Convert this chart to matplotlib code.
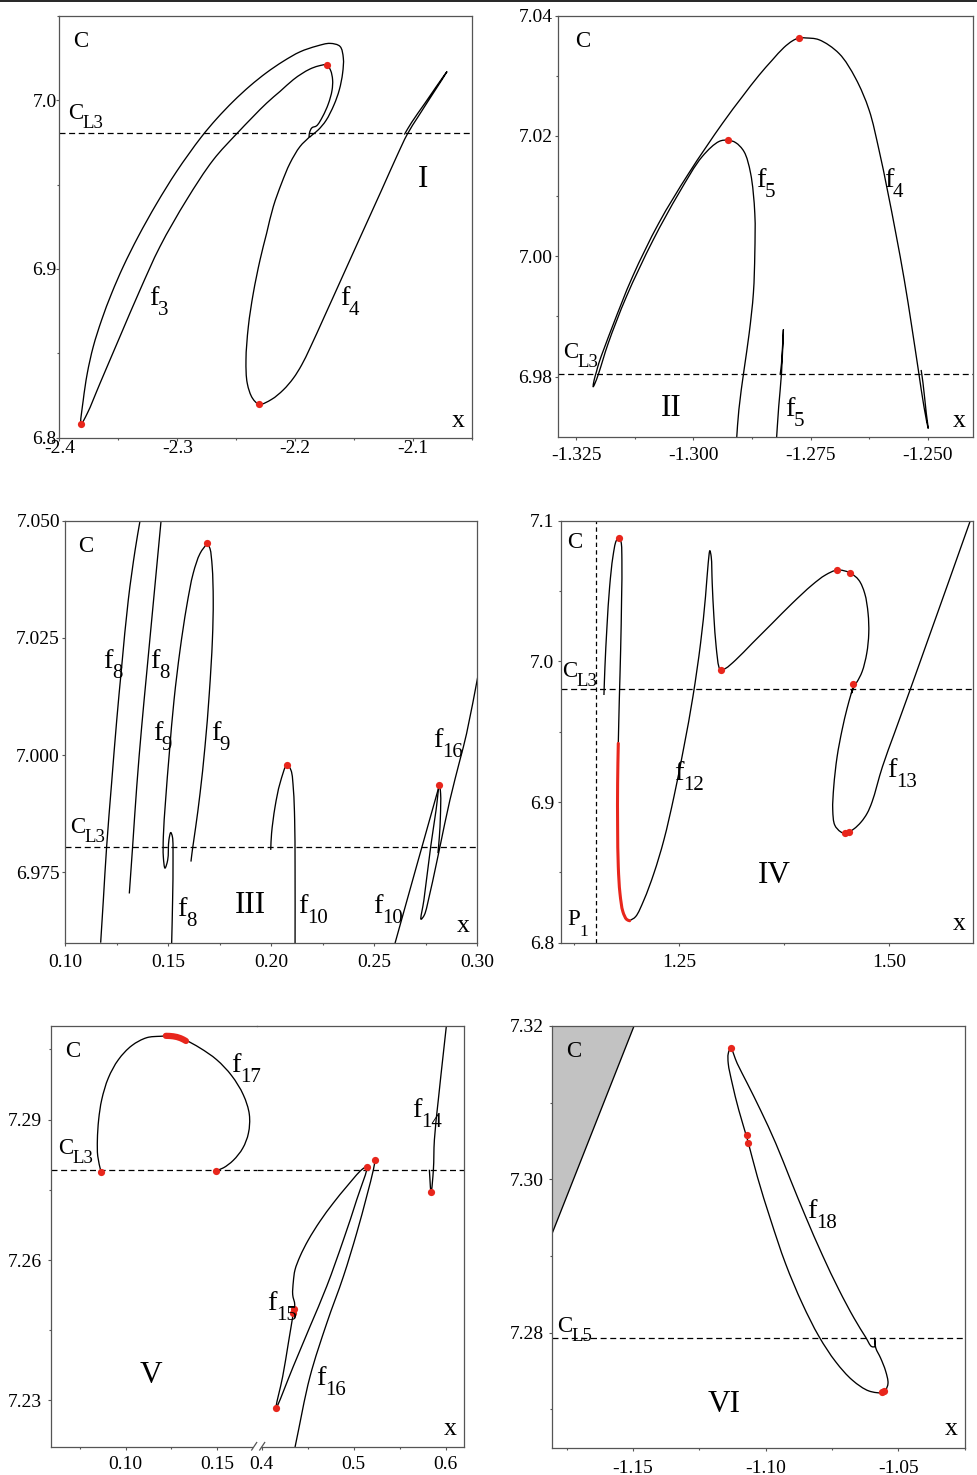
import numpy as np
import matplotlib
matplotlib.use('Agg')
import matplotlib.pyplot as plt
from matplotlib.lines import Line2D
from matplotlib.path import Path
from matplotlib.patches import PathPatch
from matplotlib.ticker import FixedLocator, FixedFormatter, NullLocator

plt.rcParams['font.family'] = ['Liberation Serif', 'DejaVu Serif']
plt.rcParams['axes.unicode_minus'] = False

W, H = 978, 1475
RED = '#e8261c'
SPINE = '#555555'

# ---------------- data ----------------
CL3 = 6.9805
CL3_V = 7.2792
CL5_VI = 7.2793
P1 = 1.151

# Panel I
f3_x = [-2.3816, -2.3797, -2.3763, -2.3712, -2.3641, -2.3556, -2.3458, -2.3331, -2.3175, -2.3006,
        -2.2799, -2.2667, -2.2525, -2.2384, -2.2243, -2.2102, -2.1960, -2.1819, -2.1706,
        -2.1621, -2.1593, -2.1599, -2.1627, -2.1672, -2.1740,
        -2.1805, -2.1853, -2.1881, -2.1879, -2.1859, -2.1819, -2.1768, -2.1720, -2.1689, -2.1684,
        -2.1701, -2.1734, -2.1805, -2.1876, -2.1946, -2.2017, -2.2130, -2.2243, -2.2492, -2.2695,
        -2.2921, -2.3147, -2.3316, -2.3486, -2.3655, -2.3763, -2.3816]
f3_y = [6.8081, 6.8223, 6.8381, 6.8540, 6.8698, 6.8856, 6.9014, 6.9192, 6.9387, 6.9577,
        6.9779, 6.9889, 6.9993, 7.0084, 7.0163, 7.0230, 7.0286, 7.0320, 7.0336,
        7.0318, 7.0249, 7.0160, 7.0061, 6.9972, 6.9879,
        6.9824, 6.9796, 6.9781, 6.9808, 6.9836, 6.9848, 6.9903, 6.9978, 7.0057, 7.0121,
        7.0176, 7.0208, 7.0202, 7.0184, 7.0156, 7.0121, 7.0051, 6.9982, 6.9804, 6.9646,
        6.9409, 6.9132, 6.8875, 6.8599, 6.8322, 6.8144, 6.8081]
f4a_x = [-2.1881, -2.1960, -2.2045, -2.2116, -2.2186, -2.2243, -2.2299, -2.2356, -2.2398, -2.2418,
         -2.2407, -2.2362, -2.2305, -2.2201, -2.2102, -2.2017, -2.1946, -2.1876, -2.1754, -2.1613,
         -2.1460, -2.1268, -2.1141, -2.1051, -2.0958, -2.0845, -2.0715, -2.0737, -2.0901, -2.1014,
         -2.1076]
f4a_y = [6.9781, 6.9725, 6.9626, 6.9508, 6.9370, 6.9211, 6.9053, 6.8856, 6.8658, 6.8460,
         6.8322, 6.8233, 6.8198, 6.8227, 6.8283, 6.8352, 6.8431, 6.8530, 6.8717, 6.8935,
         6.9172, 6.9468, 6.9666, 6.9798, 6.9903, 7.0026, 7.0168, 7.0148, 6.9982, 6.9868,
         6.9796]
dots1_x = [-2.3816, -2.2305, -2.1734]
dots1_y = [6.8081, 6.8198, 7.0208]

# Panel II
f45_x = [-1.2908, -1.2903, -1.2892, -1.2881, -1.2872, -1.2869, -1.2869, -1.2878, -1.2892, -1.2910,
         -1.2926, -1.2945, -1.2981, -1.3031, -1.3086, -1.3143, -1.3182, -1.3202, -1.3210, -1.3214,
         -1.3212, -1.3207, -1.3202, -1.3173, -1.3130, -1.3074, -1.3010, -1.2938, -1.2896, -1.2860,
         -1.2832, -1.2807, -1.2789, -1.2775, -1.2760, -1.2732, -1.2689, -1.2654, -1.2625, -1.2604,
         -1.2586, -1.2568, -1.2550, -1.2534, -1.2520, -1.2508, -1.2499, -1.2503, -1.2510, -1.2514]
f45_y = [6.9694, 6.9745, 6.9811, 6.9872, 6.9939, 7.0005, 7.0071, 7.0138, 7.0174, 7.0189,
         7.0193, 7.0191, 7.0166, 7.0105, 7.0027, 6.9933, 6.9855, 6.9806, 6.9789, 6.9783,
         6.9794, 6.9808, 6.9822, 6.9883, 6.9966, 7.0055, 7.0138, 7.0221, 7.0265, 7.0301,
         7.0326, 7.0347, 7.0358, 7.0363, 7.0363, 7.0360, 7.0337, 7.0296, 7.0243, 7.0177,
         7.0110, 7.0038, 6.9961, 6.9883, 6.9811, 6.9750, 6.9714, 6.9739, 6.9789, 6.9811]
f5s_x = [-1.2824, -1.2818, -1.2812, -1.2808, -1.2812, -1.2815]
f5s_y = [6.9680, 6.9750, 6.9806, 6.9878, 6.9822, 6.9803]
dots2_x = [-1.2926, -1.2775]
dots2_y = [7.0193, 7.0363]

# Panel III
f8a_x = [0.1173, 0.1186, 0.1202, 0.1226, 0.1251, 0.1275, 0.1307, 0.1340, 0.1364]
f8a_y = [6.9600, 6.9691, 6.9805, 6.9940, 7.0075, 7.0189, 7.0331, 7.0437, 7.0500]
f8b_x = [0.1312, 0.1328, 0.1348, 0.1372, 0.1396, 0.1425, 0.1466]
f8b_y = [6.9705, 6.9805, 6.9933, 7.0061, 7.0174, 7.0309, 7.0500]
f9a_x = [0.1690, 0.1655, 0.1622, 0.1590, 0.1558, 0.1529, 0.1506, 0.1488, 0.1477, 0.1477,
         0.1485, 0.1498, 0.1504, 0.1513, 0.1521, 0.1524, 0.1522, 0.1517]
f9a_y = [7.0452, 7.0430, 7.0388, 7.0317, 7.0224, 7.0118, 7.0004, 6.9904, 6.9826, 6.9783,
         6.9759, 6.9776, 6.9819, 6.9835, 6.9826, 6.9776, 6.9691, 6.9592]
f9b_x = [0.1690, 0.1703, 0.1714, 0.1719, 0.1715, 0.1700, 0.1679, 0.1655, 0.1634, 0.1618, 0.1611]
f9b_y = [7.0452, 7.0441, 7.0402, 7.0331, 7.0246, 7.0132, 7.0018, 6.9918, 6.9847, 6.9798, 6.9773]
f10a_x = [0.1998, 0.2002, 0.2019, 0.2043, 0.2077, 0.2096, 0.2108, 0.2114, 0.2116, 0.2116]
f10a_y = [6.9798, 6.9833, 6.9890, 6.9940, 6.9979, 6.9968, 6.9926, 6.9862, 6.9762, 6.9592]
f16a_x = [0.3010, 0.2948, 0.2916, 0.2867, 0.2819, 0.2795, 0.2770, 0.2743, 0.2727, 0.2741,
          0.2774, 0.2800, 0.2816, 0.2822, 0.2821, 0.2816, 0.2809]
f16a_y = [7.0185, 7.0046, 6.9990, 6.9904, 6.9805, 6.9755, 6.9705, 6.9659, 6.9650, 6.9691,
          6.9805, 6.9883, 6.9936, 6.9918, 6.9869, 6.9826, 6.9791]
f10b_x = [0.2601, 0.2709, 0.2816]
f10b_y = [6.9599, 6.9769, 6.9936]
dots3_x = [0.1690, 0.2077, 0.2816]
dots3_y = [7.0452, 6.9979, 6.9936]

# Panel IV
f12a_x = [1.1603, 1.1615, 1.1639, 1.1671, 1.1710, 1.1750, 1.1782, 1.1806, 1.1817, 1.1813,
          1.1802, 1.1786, 1.1774]
f12a_y = [6.9761, 6.9962, 7.0246, 7.0531, 7.0744, 7.0858, 7.0879, 7.0851, 7.0720, 7.0436,
          7.0081, 6.9725, 6.9417]
f12r_x = [1.1774, 1.1766, 1.1766, 1.1774, 1.1794, 1.1829, 1.1873, 1.1909]
f12r_y = [6.9417, 6.9133, 6.8825, 6.8540, 6.8351, 6.8220, 6.8166, 6.8156]
f12b_x = [1.1909, 1.1980, 1.2079, 1.2198, 1.2317, 1.2437, 1.2556, 1.2663, 1.2754, 1.2813,
          1.2845, 1.2865, 1.2881, 1.2893, 1.2913, 1.2940, 1.2972, 1.2992, 1.3052, 1.3171,
          1.3369, 1.3607, 1.3845, 1.4083, 1.4242, 1.4385, 1.4532, 1.4639, 1.4710, 1.4750,
          1.4758, 1.4734, 1.4679, 1.4619, 1.4599, 1.4567, 1.4552, 1.4567, 1.4544, 1.4500,
          1.4440, 1.4381, 1.4341, 1.4329, 1.4353, 1.4421, 1.4480, 1.4579, 1.4667, 1.4738,
          1.4798, 1.4921, 1.5063, 1.5254, 1.5472, 1.5710, 1.5968, 1.6008]
f12b_y = [6.8156, 6.8185, 6.8303, 6.8493, 6.8730, 6.9038, 6.9393, 6.9749, 7.0128, 7.0460,
          7.0697, 7.0787, 7.0744, 7.0555, 7.0318, 7.0104, 6.9962, 6.9938, 6.9950, 7.0009,
          7.0128, 7.0270, 7.0412, 7.0543, 7.0614, 7.0649, 7.0630, 7.0578, 7.0483, 7.0341,
          7.0199, 7.0057, 6.9927, 6.9855, 6.9839, 6.9796, 6.9773, 6.9808, 6.9761, 6.9666,
          6.9512, 6.9322, 6.9109, 6.8943, 6.8836, 6.8789, 6.8777, 6.8808, 6.8858, 6.8919,
          6.9002, 6.9251, 6.9488, 6.9803, 7.0168, 7.0566, 7.1000, 7.1066]
dots4_x = [1.1782, 1.2992, 1.4385, 1.4532, 1.4567, 1.4480, 1.4520]
dots4_y = [7.0879, 6.9938, 7.0649, 7.0630, 6.9839, 6.8777, 6.8789]

# Panel V (left part)
f17_x = [0.0865, 0.0847, 0.0845, 0.0852, 0.0869, 0.0905, 0.0960, 0.1033, 0.1115, 0.1188,
         0.1243, 0.1325, 0.1407, 0.1498, 0.1580, 0.1644, 0.1677, 0.1672, 0.1641, 0.1589,
         0.1535, 0.1495]
f17_y = [7.2788, 7.2822, 7.2857, 7.2900, 7.2943, 7.2989, 7.3028, 7.3058, 7.3075, 7.3078,
         7.3078, 7.3070, 7.3053, 7.3028, 7.2994, 7.2953, 7.2911, 7.2871, 7.2839, 7.2813,
         7.2797, 7.2791]
f17r_x = [0.1220, 0.1260, 0.1300, 0.1330]
f17r_y = [7.3079, 7.3078, 7.3074, 7.3068]
dots5a_x = [0.0865, 0.1495]
dots5a_y = [7.2788, 7.2791]
# Panel V (right part)
f15_x = [0.5087, 0.4924, 0.4779, 0.4634, 0.4507, 0.4417, 0.4362, 0.4344, 0.4337, 0.4359,
         0.4344, 0.4290, 0.4228, 0.4156, 0.4344, 0.4525, 0.4707, 0.4888, 0.5033, 0.5141, 0.5087]
f15_y = [7.2793, 7.2757, 7.2722, 7.2683, 7.2643, 7.2608, 7.2579, 7.2554, 7.2526, 7.2505,
         7.2487, 7.2423, 7.2351, 7.2284, 7.2373, 7.2458, 7.2544, 7.2643, 7.2729, 7.2799, 7.2793]
f16v_x = [0.4362, 0.4525, 0.4707, 0.4888, 0.5033, 0.5141, 0.5214, 0.5232]
f16v_y = [7.2200, 7.2351, 7.2465, 7.2565, 7.2658, 7.2736, 7.2793, 7.2813]
f14_x = [0.6011, 0.5975, 0.5920, 0.5877, 0.5866, 0.5841, 0.5822]
f14_y = [7.3107, 7.3043, 7.2943, 7.2857, 7.2793, 7.2745, 7.2793]
dots5b_x = [0.5141, 0.5232, 0.4344, 0.4346, 0.4156, 0.5841]
dots5b_y = [7.2799, 7.2813, 7.2487, 7.2495, 7.2284, 7.2745]

# Panel VI
f18_x = [-1.1132, -1.1107, -1.1069, -1.1019, -1.0962, -1.0906, -1.0849, -1.0786, -1.0724, -1.0667,
         -1.0623, -1.0601, -1.0588, -1.0590, -1.0585, -1.0567, -1.0548, -1.0539, -1.0548, -1.0558,
         -1.0611, -1.0673, -1.0736, -1.0799, -1.0862, -1.0925, -1.0981, -1.1031, -1.1068, -1.1101,
         -1.1126, -1.1141, -1.1141, -1.1132]
f18_y = [7.3171, 7.3151, 7.3125, 7.3090, 7.3047, 7.2999, 7.2951, 7.2901, 7.2856, 7.2819,
         7.2794, 7.2782, 7.2782, 7.2793, 7.2780, 7.2767, 7.2750, 7.2734, 7.2725, 7.2722,
         7.2724, 7.2738, 7.2762, 7.2795, 7.2838, 7.2890, 7.2947, 7.3003, 7.3051, 7.3090,
         7.3125, 7.3151, 7.3164, 7.3171]
dots6_x = [-1.1132, -1.1072, -1.1066, -1.0562, -1.0553]
dots6_y = [7.3171, 7.3058, 7.3047, 7.2722, 7.2724]
gray_x = [-1.1804, -1.1496, -1.1804]
gray_y = [7.3200, 7.3200, 7.2930]

# Ticks
t1_x, t1_xl, t1_xm = [-2.4, -2.3, -2.2, -2.1], ['-2.4', '-2.3', '-2.2', '-2.1'], [-2.35, -2.25, -2.15, -2.05]
t1_y, t1_yl, t1_ym = [6.8, 6.9, 7.0], ['6.8', '6.9', '7.0'], [6.85, 6.95, 7.05]
t2_x, t2_xl, t2_xm = [-1.325, -1.300, -1.275, -1.250], ['-1.325', '-1.300', '-1.275', '-1.250'], [-1.3125, -1.2875, -1.2625]
t2_y, t2_yl, t2_ym = [6.98, 7.00, 7.02, 7.04], ['6.98', '7.00', '7.02', '7.04'], [6.99, 7.01, 7.03]
t3_x, t3_xl, t3_xm = [0.10, 0.15, 0.20, 0.25, 0.30], ['0.10', '0.15', '0.20', '0.25', '0.30'], [0.125, 0.175, 0.225, 0.275]
t3_y, t3_yl, t3_ym = [6.975, 7.000, 7.025, 7.050], ['6.975', '7.000', '7.025', '7.050'], []
t4_x, t4_xl, t4_xm = [1.25, 1.50], ['1.25', '1.50'], [1.125, 1.375]
t4_y, t4_yl, t4_ym = [6.8, 6.9, 7.0, 7.1], ['6.8', '6.9', '7.0', '7.1'], [6.85, 6.95, 7.05]
t5a_x, t5a_xl, t5a_xm = [0.10, 0.15], ['0.10', '0.15'], [0.075, 0.125]
t5b_x, t5b_xl, t5b_xm = [0.4, 0.5, 0.6], ['0.4', '0.5', '0.6'], [0.45, 0.55]
t5_y, t5_yl, t5_ym = [7.23, 7.26, 7.29], ['7.23', '7.26', '7.29'], [7.245, 7.275, 7.305]
t6_x, t6_xl, t6_xm = [-1.15, -1.10, -1.05], ['-1.15', '-1.10', '-1.05'], [-1.175, -1.125, -1.075, -1.025]
t6_y, t6_yl, t6_ym = [7.28, 7.30, 7.32], ['7.28', '7.30', '7.32'], [7.27, 7.29, 7.31]

# ---------------- figure ----------------
fig = plt.figure(figsize=(W / 100, H / 100), dpi=100)
fig.patch.set_facecolor('white')


def make_ax(l, r, t, b):
    return fig.add_axes([l / W, 1 - b / H, (r - l) / W, (b - t) / H])


PX = 0.72  # points per pixel


def style(ax, xlim, ylim, xt, xl, xm, yt, yl, ym, xgap, ygap):
    ax.set_xlim(*xlim)
    ax.set_ylim(*ylim)
    ax.xaxis.set_major_locator(FixedLocator(xt))
    ax.xaxis.set_major_formatter(FixedFormatter(xl))
    ax.xaxis.set_minor_locator(FixedLocator(xm) if xm else NullLocator())
    ax.yaxis.set_major_locator(FixedLocator(yt))
    ax.yaxis.set_major_formatter(FixedFormatter(yl))
    ax.yaxis.set_minor_locator(FixedLocator(ym) if ym else NullLocator())
    ax.tick_params(which='major', length=3 * PX, width=0.8, color=SPINE, labelsize=14,
                   direction='out')
    ax.tick_params(which='minor', length=2.2 * PX, width=0.8, color=SPINE, direction='out')
    ax.tick_params(axis='x', which='major', pad=(xgap - 3.5) * PX)
    ax.tick_params(axis='y', which='major', pad=(ygap - 3) * PX)
    for s in ax.spines.values():
        s.set_color(SPINE)
        s.set_linewidth(0.9)


LW = 0.95
DASH = (0, (4.8, 2.9))


def curve(ax, xs, ys, color='k', lw=LW, capstyle='butt'):
    """Draw a smooth (centripetal Catmull-Rom) line through the read points."""
    pts = np.column_stack([xs, ys]).astype(float)
    x0, x1 = ax.get_xlim()
    y0, y1 = ax.get_ylim()
    pos = ax.get_position()
    sx = pos.width * W / (x1 - x0)
    sy = pos.height * H / (y1 - y0)
    closed = np.allclose(pts[0], pts[-1])
    n = len(pts)

    def dist(a, b):
        return max(np.hypot((a[0] - b[0]) * sx, (a[1] - b[1]) * sy), 1e-6) ** 0.5

    verts = [pts[0]]
    codes = [Path.MOVETO]
    for i in range(n - 1):
        p1, p2 = pts[i], pts[i + 1]
        if i > 0:
            p0 = pts[i - 1]
        elif closed:
            p0 = pts[-2]
        else:
            p0 = 2 * p1 - p2
        if i + 2 < n:
            p3 = pts[i + 2]
        elif closed:
            p3 = pts[1]
        else:
            p3 = 2 * p2 - p1
        d1, d2, d3 = dist(p0, p1), dist(p1, p2), dist(p2, p3)
        c1 = (d1 ** 2 * p2 - d2 ** 2 * p0 + (2 * d1 ** 2 + 3 * d1 * d2 + d2 ** 2) * p1) / (3 * d1 * (d1 + d2))
        c2 = (d3 ** 2 * p1 - d2 ** 2 * p3 + (2 * d3 ** 2 + 3 * d3 * d2 + d2 ** 2) * p2) / (3 * d3 * (d3 + d2))
        verts += [c1, c2, p2]
        codes += [Path.CURVE4] * 3
    ax.add_patch(PathPatch(Path(verts, codes), fill=False, edgecolor=color, lw=lw,
                           capstyle=capstyle, joinstyle='round'))


def dots(ax, xs, ys, ms=5.2):
    ax.plot(xs, ys, 'o', color=RED, ms=ms, mec='none', zorder=5)


# Panel I
ax1 = make_ax(59.3, 472.3, 15.7, 437.7)
style(ax1, (-2.4, -2.05), (6.8, 7.05), t1_x, t1_xl, t1_xm, t1_y, t1_yl, t1_ym, 3, 2.7)
curve(ax1, f3_x, f3_y)
curve(ax1, f4a_x, f4a_y)
ax1.axhline(CL3, color='k', lw=0.9, ls=DASH)
dots(ax1, dots1_x, dots1_y)

# Panel II
ax2 = make_ax(557.7, 973, 15.7, 436.7)
style(ax2, (-1.32897, -1.24033), (6.97, 7.04), t2_x, t2_xl, t2_xm, t2_y, t2_yl, t2_ym, 11, 5.3)
curve(ax2, f45_x, f45_y)
curve(ax2, f5s_x, f5s_y)
ax2.axhline(CL3, color='k', lw=0.9, ls=DASH)
dots(ax2, dots2_x, dots2_y)

# Panel III
ax3 = make_ax(65, 477.3, 520.7, 942.7)
style(ax3, (0.10, 0.30), (6.96, 7.05), t3_x, t3_xl, t3_xm, t3_y, t3_yl, t3_ym, 12, 5)
for xs, ys in [(f8a_x, f8a_y), (f8b_x, f8b_y), (f9a_x, f9a_y), (f9b_x, f9b_y),
               (f10a_x, f10a_y), (f16a_x, f16a_y), (f10b_x, f10b_y)]:
    curve(ax3, xs, ys)
ax3.axhline(CL3, color='k', lw=0.9, ls=DASH)
dots(ax3, dots3_x, dots3_y)

# Panel IV
ax4 = make_ax(561.3, 973, 520.7, 942.7)
style(ax4, (1.1095, 1.60), (6.8, 7.1), t4_x, t4_xl, t4_xm, t4_y, t4_yl, t4_ym, 12, 7.3)
curve(ax4, f12a_x, f12a_y)
curve(ax4, f12b_x, f12b_y)
curve(ax4, f12r_x, f12r_y, color=RED, lw=2.2, capstyle='round')
ax4.axhline(CL3, color='k', lw=0.9, ls=DASH)
ax4.axvline(P1, color='k', lw=0.9, ls=(0, (3.5, 2.6)))
dots(ax4, dots4_x, dots4_y)

# Panel V (broken axis)
ax5a = make_ax(51, 257, 1026, 1447.3)
ax5b = make_ax(257, 464.3, 1026, 1447.3)
style(ax5a, (0.0591, 0.1719), (7.22, 7.31), t5a_x, t5a_xl, t5a_xm, t5_y, t5_yl, t5_ym, 9.5, 9.3)
style(ax5b, (0.3949, 0.6202), (7.22, 7.31), t5b_x, t5b_xl, t5b_xm, t5_y, t5_yl, t5_ym, 9.5, 9.3)
ax5a.spines['right'].set_visible(False)
ax5b.spines['left'].set_visible(False)
ax5b.tick_params(axis='y', which='both', left=False, labelleft=False)
ax5a.spines['bottom'].set_bounds(0.0591, 0.1692)
ax5b.spines['bottom'].set_bounds(0.3992, 0.6202)
ax5a.patch.set_alpha(0)
ax5b.patch.set_alpha(0)
curve(ax5a, f17_x, f17_y)
curve(ax5a, f17r_x, f17r_y, color=RED, lw=4.5, capstyle='round')
ax5a.axhline(CL3_V, color='k', lw=0.9, ls=DASH)
dots(ax5a, dots5a_x, dots5a_y)
curve(ax5b, f15_x, f15_y)
curve(ax5b, f16v_x, f16v_y)
curve(ax5b, f14_x, f14_y)
ax5b.axhline(CL3_V, color='k', lw=0.9, ls=DASH)
dots(ax5b, dots5b_x, dots5b_y)
for (x0, y0, x1, y1) in [(251.7, 1450, 256.7, 1442.5), (259.7, 1450, 264.7, 1442.5)]:
    fig.add_artist(Line2D([x0 / W, x1 / W], [1 - y0 / H, 1 - y1 / H], color=SPINE, lw=0.9,
                          transform=fig.transFigure))

# Panel VI
ax6 = make_ax(552.3, 964.7, 1026, 1447.7)
style(ax6, (-1.1804, -1.025), (7.265, 7.32), t6_x, t6_xl, t6_xm, t6_y, t6_yl, t6_ym, 12.5, 8.3)
ax6.fill(gray_x, gray_y, color='#c2c2c2', lw=0)
ax6.plot(gray_x[1:], gray_y[1:], color='k', lw=LW)
curve(ax6, f18_x, f18_y)
ax6.axhline(CL5_VI, color='k', lw=0.9, ls=DASH)
dots(ax6, dots6_x, dots6_y)

# top border line
fig.add_artist(Line2D([0, 1], [1 - 0.8 / H, 1 - 0.8 / H], color='k', lw=1.2,
                      transform=fig.transFigure))

# ---------------- labels ----------------
renderer = fig.canvas.get_renderer()
SIZES = {'f': (20.5, 15, 10), 'C': (16.5, 13.5, 9), 'P': (16.5, 12.5, 11)}


def label(px, py, main, sub=None, kind='f'):
    if kind == 'R':
        fig.text(px / W, 1 - py / H, main, fontsize=22.5, ha='left', va='baseline')
        return
    if kind == 'x':
        fig.text(px / W, 1 - py / H, main, fontsize=18.5, ha='left', va='baseline')
        return
    size, subsize, dy = SIZES[kind]
    t = fig.text(px / W, 1 - py / H, main, fontsize=size, ha='left', va='baseline')
    if sub:
        bb = t.get_window_extent(renderer)
        fig.text((bb.x1 - 0.5) / W, 1 - (py + dy) / H, sub, fontsize=subsize, ha='left',
                 va='baseline')


labels = [
    # panel I
    (73, 47, 'C', None, 'C'), (68.3, 119, 'C', 'L3', 'C'), (418, 187.3, 'I', None, 'R'),
    (149, 305, 'f', '3', 'f'), (340, 305, 'f', '4', 'f'), (451.7, 426.7, 'x', None, 'x'),
    # panel II
    (575, 46.7, 'C', None, 'C'), (563, 358.3, 'C', 'L3', 'C'), (660.7, 416, 'II', None, 'R'),
    (755.7, 186.7, 'f', '5', 'f'), (884, 186.7, 'f', '4', 'f'), (785, 416, 'f', '5', 'f'),
    (952.3, 426.7, 'x', None, 'x'),
    # panel III
    (78.3, 551.7, 'C', None, 'C'), (70, 833.3, 'C', 'L3', 'C'),
    (103.3, 668.3, 'f', '8', 'f'), (150, 668.3, 'f', '8', 'f'), (177.3, 916, 'f', '8', 'f'),
    (152.7, 740, 'f', '9', 'f'), (210.7, 740, 'f', '9', 'f'), (235, 913.3, 'III', None, 'R'),
    (298.3, 913.3, 'f', '10', 'f'), (373.3, 913.3, 'f', '10', 'f'), (433.3, 746.7, 'f', '16', 'f'),
    (456.7, 931.7, 'x', None, 'x'),
    # panel IV
    (567.3, 548.3, 'C', None, 'C'), (561.7, 676.7, 'C', 'L3', 'C'), (567.3, 925, 'P', '1', 'P'),
    (674, 780, 'f', '12', 'f'), (887.3, 776.7, 'f', '13', 'f'), (758.3, 883.3, 'IV', None, 'R'),
    (952.3, 930, 'x', None, 'x'),
    # panel V
    (65, 1056.7, 'C', None, 'C'), (58.3, 1154, 'C', 'L3', 'C'), (231, 1071.7, 'f', '17', 'f'),
    (411.7, 1116.7, 'f', '14', 'f'), (266.7, 1310, 'f', '15', 'f'), (316, 1385, 'f', '16', 'f'),
    (140, 1382.7, 'V', None, 'R'), (443.3, 1435, 'x', None, 'x'),
    # panel VI
    (566.3, 1056.7, 'C', None, 'C'), (557.3, 1331.7, 'C', 'L5', 'C'), (807.3, 1218.3, 'f', '18', 'f'),
    (707.3, 1411.7, 'VI', None, 'R'), (945, 1435, 'x', None, 'x'),
]
for px, py, m, s, k in labels:
    label(px, py, m, s, k)

fig.savefig('out.png', dpi=100, facecolor='white')
